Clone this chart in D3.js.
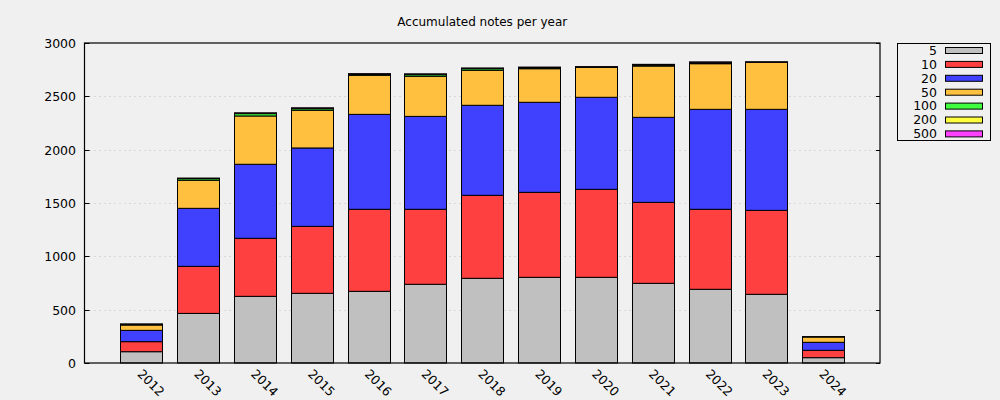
<!DOCTYPE html>
<html><head><meta charset="utf-8">
<script src="https://cdn.jsdelivr.net/npm/d3@7"></script>
<style>body{margin:0;background:#f0f0f0;}svg{display:block;font-family:"DejaVu Sans",sans-serif;}</style>
</head><body><svg id="c" width="1000" height="400"></svg>
<script>
const years = ["2012","2013","2014","2015","2016","2017","2018","2019","2020","2021","2022","2023","2024"];
const denominations = ["5","10","20","50","100","200","500"];
const colors = ["#c0c0c0","#ff4040","#4040ff","#ffc040","#40ff40","#ffff40","#ff40ff"];
const notes5   = [106,465,625,653,672,738,794,803,803,747,691,644,50];
const notes10  = [94,441,544,628,769,703,778,797,825,759,750,787,69];
const notes20  = [106,544,694,735,890,871,844,844,863,797,937,947,75];
const notes50  = [50,263,453,353,366,376,328,315,281,481,428,441,50];
const notes100 = [6,15,22,15,8,15,15,6,2,6,8,1,2];
const notes200 = [2,3,4,5,5,5,4,6,2,8,6,1,1];
const notes500 = [1,2,3,3,2,2,2,3,2,2,2,1,0];
const yTicks = [0,500,1000,1500,2000,2500,3000];
const title = "Accumulated notes per year";

const series = [notes5,notes10,notes20,notes50,notes100,notes200,notes500];
const rows = years.map((y,i)=>{const r={year:y}; denominations.forEach((d,k)=>r[d]=series[k][i]); return r;});
const stacked = d3.stack().keys(denominations)(rows);

const svg = d3.select("#c");
const L=84.5, R=880, T=43, B=363;
const x = d3.scaleBand().domain(years).range([L,R]).paddingInner(0.26).paddingOuter(0.63);
const y = d3.scaleLinear().domain([0,3000]).range([B,T]);

svg.append("rect").attr("width",1000).attr("height",400).attr("fill","#f0f0f0");

// grid
svg.append("g").selectAll("line").data(yTicks.filter(t=>t>0&&t<3000)).join("line")
  .attr("x1",L).attr("x2",R).attr("y1",d=>Math.round(y(d))+0.5).attr("y2",d=>Math.round(y(d))+0.5)
  .attr("stroke","#c0c0c0").attr("stroke-width",1).attr("stroke-dasharray","1,4");

// bars
const g = svg.append("g");
stacked.forEach((s,k)=>{
  g.append("g").selectAll("rect").data(s).join("rect")
    .attr("x",d=>Math.round(x(d.data.year))+0.5)
    .attr("width",Math.round(x.bandwidth()))
    .attr("y",d=>y(d[1]))
    .attr("height",d=>Math.max(0,y(d[0])-y(d[1])))
    .attr("fill",colors[k]).attr("stroke","#000").attr("stroke-width",1);
});

// frame
svg.append("rect").attr("x",L).attr("y",T).attr("width",R-L).attr("height",B-T)
  .attr("fill","none").attr("stroke","#000").attr("stroke-width",1.2);

// y ticks left and right
const ya = svg.append("g");
yTicks.forEach(t=>{
  const yy=Math.round(y(t))+0.5;
  ya.append("line").attr("x1",L).attr("x2",L+5).attr("y1",yy).attr("y2",yy).attr("stroke","#000");
  ya.append("line").attr("x1",R-4).attr("x2",R).attr("y1",yy).attr("y2",yy).attr("stroke","#000");
  ya.append("text").attr("x",76).attr("y",yy).attr("dy","0.35em").attr("text-anchor","end")
    .attr("font-size",12.5).attr("fill","#000").text(t);
});

// x labels
svg.append("g").selectAll("text").data(years).join("text")
  .attr("transform",d=>`translate(${x(d)+x.bandwidth()/2+2},${368}) rotate(45)`)
  .attr("dy","0.75em").attr("text-anchor","start").attr("font-size",12.5).attr("fill","#000").text(d=>d);

// title
svg.append("text").attr("x",(L+R)/2).attr("y",26).attr("text-anchor","middle")
  .attr("font-size",12).attr("fill","#000").text(title);

// legend
const lg = svg.append("g");
lg.append("rect").attr("x",897.5).attr("y",43.5).attr("width",93).attr("height",97)
  .attr("fill","none").attr("stroke","#000");
denominations.forEach((d,k)=>{
  const cy = 50.5 + k*13.9;
  lg.append("text").attr("x",937).attr("y",cy).attr("dy","0.35em").attr("text-anchor","end")
    .attr("font-size",12.5).attr("fill","#000").text(d);
  lg.append("rect").attr("x",945.5).attr("y",cy-3).attr("width",37).attr("height",6)
    .attr("fill",colors[k]).attr("stroke","#000");
});
</script></body></html>
